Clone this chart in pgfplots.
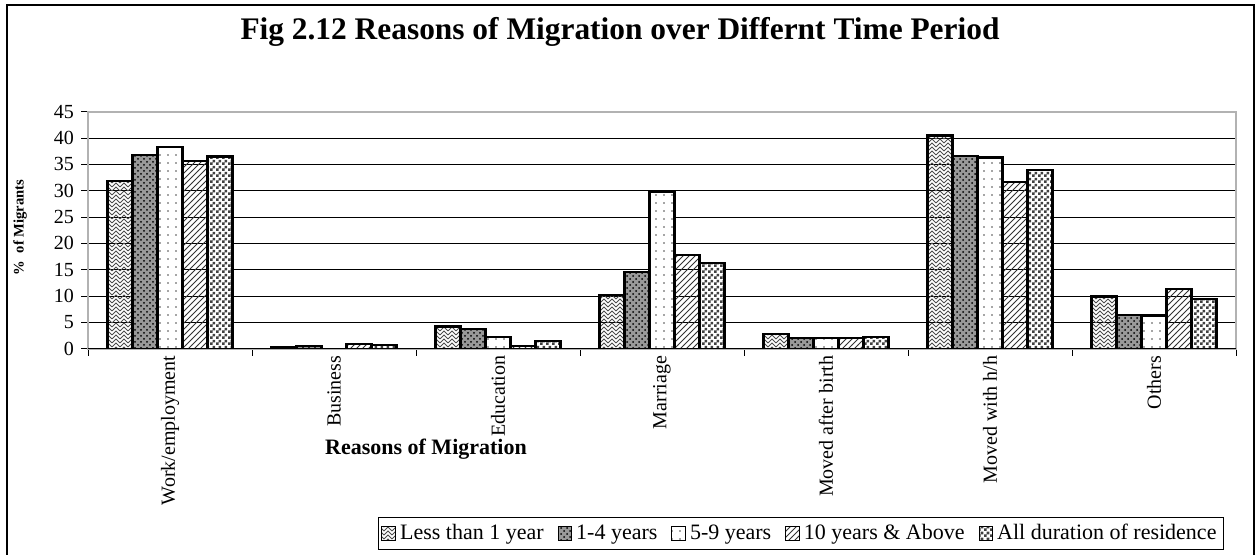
\documentclass[border=0pt]{standalone}
\usepackage{pgfplots}
\pgfplotsset{compat=1.18}
\usepackage{fontspec}
\setmainfont{Liberation Serif}
\usetikzlibrary{patterns}

\pgfdeclarepatternformonly{zigzag}{\pgfqpoint{-0.5pt}{-0.5pt}}{\pgfqpoint{4.5pt}{4.5pt}}{\pgfqpoint{4pt}{4pt}}{%
 \pgfsetlinewidth{0.5pt}%
 \pgfpathmoveto{\pgfqpoint{0pt}{0pt}}\pgfpathlineto{\pgfqpoint{2pt}{2pt}}\pgfpathlineto{\pgfqpoint{4pt}{0pt}}%
 \pgfpathmoveto{\pgfqpoint{0pt}{2pt}}\pgfpathlineto{\pgfqpoint{2pt}{4pt}}\pgfpathlineto{\pgfqpoint{4pt}{2pt}}%
 \pgfusepath{stroke}}
\pgfdeclarepatternformonly{sparsedots}{\pgfqpoint{-1pt}{-1pt}}{\pgfqpoint{1pt}{1pt}}{\pgfqpoint{4pt}{4pt}}{%
 \pgfpathcircle{\pgfqpoint{0pt}{0pt}}{0.4pt}\pgfusepath{fill}}
\pgfdeclarepatternformonly{smallchecker}{\pgfqpoint{0pt}{0pt}}{\pgfqpoint{3pt}{3pt}}{\pgfqpoint{3pt}{3pt}}{%
 \pgfpathrectangle{\pgfqpoint{0pt}{0pt}}{\pgfqpoint{1.5pt}{1.5pt}}%
 \pgfpathrectangle{\pgfqpoint{1.5pt}{1.5pt}}{\pgfqpoint{1.5pt}{1.5pt}}%
 \pgfusepath{fill}}

\pgfplotstableread{
x  a     b     c     d     e
0  31.9  36.8  38.3  35.7  36.5
1  0.3   0.5   0.0   0.9   0.7
2  4.2   3.7   2.2   0.5   1.4
3  10.2  14.6  29.8  17.8  16.2
4  2.8   2.1   2.1   2.1   2.2
5  40.5  36.6  36.3  31.7  33.9
6  9.9   6.4   6.3   11.3  9.4
}\datatable

\begin{document}
\begin{tikzpicture}
\begin{axis}[
  scale only axis, width=574pt, height=118.5pt,
  ybar=0pt, bar width=12.5pt,
  xmin=-0.5, xmax=6.5, ymin=0, ymax=45,
  ytick={0,5,...,45},
  xtick={-0.5,0.5,...,6.5}, xticklabels={},
  extra x ticks={0,1,2,3,4,5,6},
  extra x tick labels={Work/employment,Business,Education,Marriage,Moved after birth,Moved with h/h,Others},
  extra x tick style={major tick length=0pt, grid=none},
  tick align=outside, tick pos=left,
  major tick length=3.5pt,
  tick style={black, line width=0.5pt},
  ymajorgrids, grid style={black, line width=0.5pt},
  axis line style={gray!60, line width=1pt},
  /pgf/number format/assume math mode=true,
  ticklabel style={font=\fontsize{10}{12}\selectfont},
  xticklabel style={rotate=90, anchor=east, font=\fontsize{10}{12}\selectfont},
  every axis plot/.append style={draw=black, line width=1.1pt},
  legend columns=-1,
  legend style={at={(0.2526,-0.71)}, anchor=north west, draw=black, line width=0.5pt,
    font=\fontsize{11}{13}\selectfont, inner sep=1.5pt,
    /tikz/every even column/.append style={column sep=5pt}},
  legend image code/.code={\draw[#1, line width=0.5pt] (0pt,-3.4pt) rectangle (6.8pt,3.4pt);},
  after end axis/.code={\draw[black, line width=0.8pt] (rel axis cs:0,0) -- (rel axis cs:1,0);},
]
\addplot[pattern=zigzag, pattern color=black!70] table[x=x,y=a]{\datatable};
\addplot[fill=black!40, postaction={pattern=crosshatch dots, pattern color=black}] table[x=x,y=b]{\datatable};
\addplot[fill=white, postaction={pattern=sparsedots, pattern color=black!70}] table[x=x,y=c]{\datatable};
\addplot[pattern=north east lines, pattern color=black!80] table[x=x,y=d]{\datatable};
\addplot[fill=white, postaction={pattern=smallchecker, pattern color=black!75}] table[x=x,y=e]{\datatable};
\legend{Less than 1 year,1-4 years,5-9 years,10 years \& Above,All duration of residence}
\end{axis}
\node[anchor=base, font=\bfseries\fontsize{15.7}{18}\selectfont] at (266pt,154.35pt) {Fig 2.12 Reasons of Migration over Differnt Time Period};
\node[anchor=base, font=\bfseries\fontsize{11}{13}\selectfont] at (169pt,-53.15pt) {Reasons of Migration};
\node[rotate=90, font=\bfseries\fontsize{7.3}{9}\selectfont] at (-34pt,60.6pt) {\%\ \ of Migrants};
\draw[line width=1pt] (-40.5pt,-110pt) rectangle (583pt,171.85pt);
\pgfresetboundingbox
\useasboundingbox (-44pt,-103.15pt) rectangle (584.5pt,174.35pt);
\end{tikzpicture}
\end{document}
